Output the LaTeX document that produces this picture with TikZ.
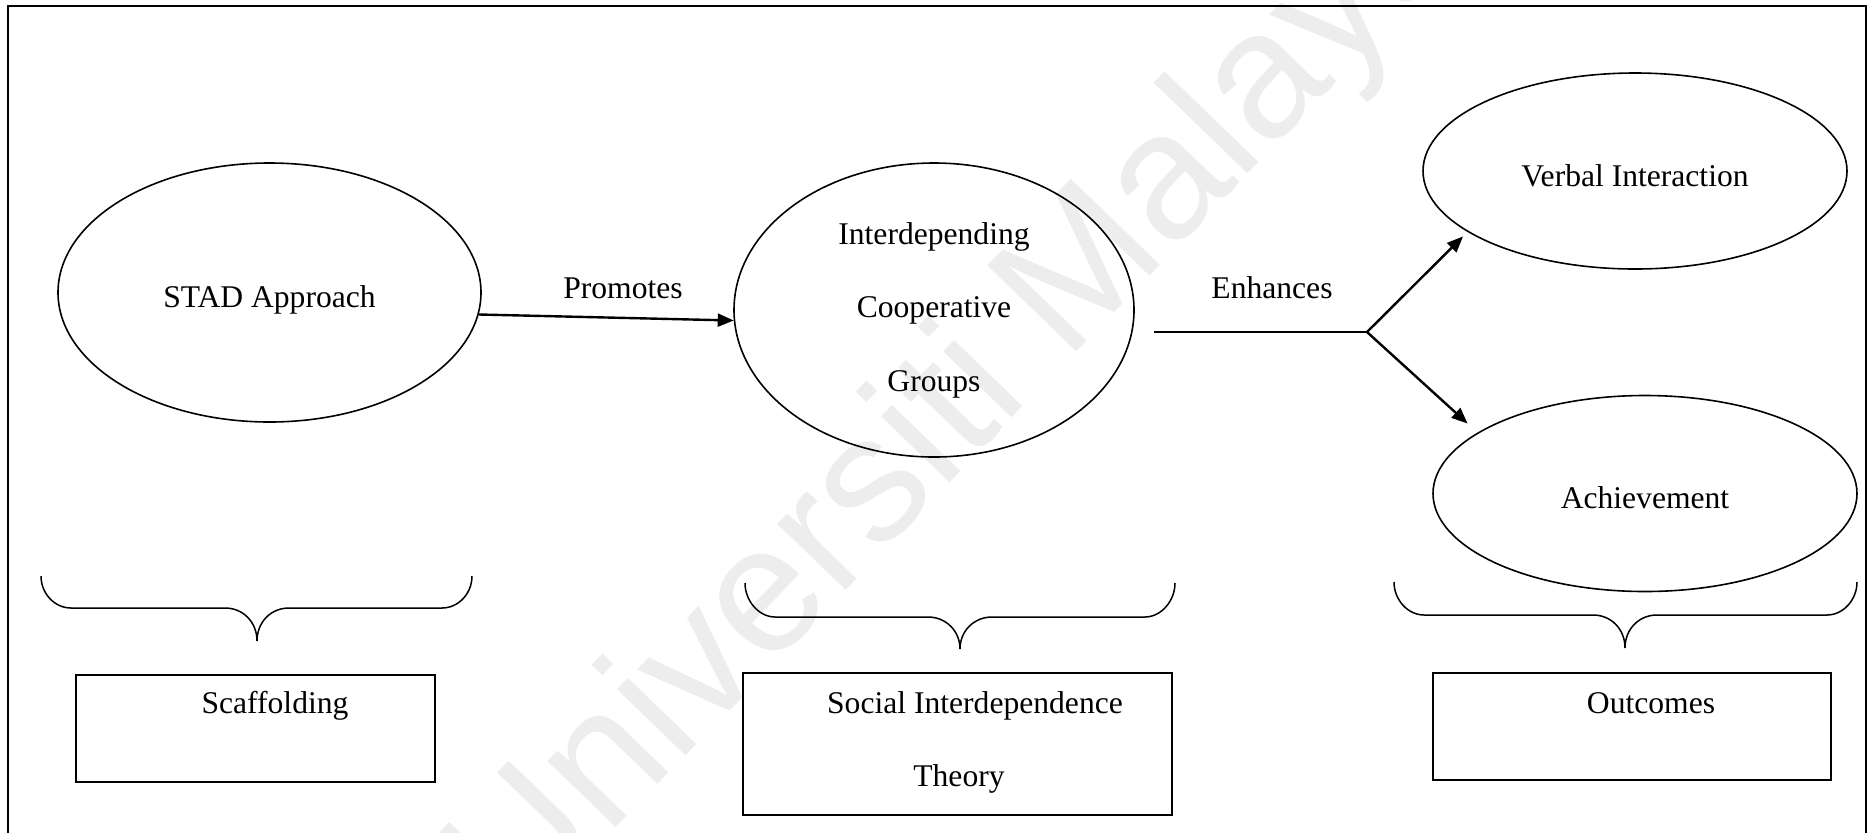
\documentclass[tikz,border=0pt]{standalone}
\usepackage{fontspec}
\setmainfont{Liberation Serif}
\newfontfamily\wmfont{Liberation Sans}
\usetikzlibrary{arrows.meta,shapes.geometric}

% curly brace opening downwards: left x, right x, top y, middle y, tip y, tip x
\newcommand{\drawbrace}[6]{%
  \draw[brace] (#1,#3) .. controls (#1,{#3+18}) and ({#1+14},#4) .. ({#1+30},#4)
    -- ({#6-32},#4) .. controls ({#6-14},#4) and (#6,{#4+14}) .. (#6,#5)
    .. controls (#6,{#4+14}) and ({#6+14},#4) .. ({#6+32},#4)
    -- ({#2-30},#4) .. controls ({#2-14},#4) and (#2,{#3+18}) .. (#2,#3);}

\begin{document}
\begin{tikzpicture}[x=0.5pt,y=-0.5pt,
  every node/.style={font=\fontsize{15.8}{36.75}\selectfont},
  oval/.style={draw, ellipse, line width=0.8pt, inner sep=0pt},
  ovaltext/.style={text height=18.5pt, text depth=3.5pt},
  box/.style={draw, rectangle, line width=1pt, inner sep=0pt},
  lbl/.style={anchor=base, inner sep=0pt},
  link/.style={line width=1.2pt},
  arr/.style={link, -{Triangle[length=8pt,width=6.5pt]}},
  brace/.style={line width=0.75pt},
]
\useasboundingbox (0,0) rectangle (1870,832);

% faint watermark behind the diagram
\node[rotate=46, text=black!7, inner sep=0pt,
      font=\wmfont\fontsize{90}{90}\selectfont] (wm) at (960,405) {Universiti Malaya};

% outer frame (runs off the lower edge)
\draw[line width=1pt] (8,840) -- (8,6) -- (1866,6) -- (1866,840);

% concept ellipses
\node[oval, ovaltext, minimum width=211.5pt, minimum height=129.5pt] (stad) at (269.5,292.5) {STAD Approach};
\node[oval, align=center, minimum width=200pt, minimum height=147pt] (coop) at (934,310)
  {Interdepending\\Cooperative\\Groups};
\node[oval, ovaltext, minimum width=212pt, minimum height=98pt] (verbal) at (1635,171) {Verbal Interaction};
\node[oval, ovaltext, minimum width=212pt, minimum height=98pt] (achv) at (1645,493.5) {Achievement};

% relation labels
\node[lbl] (promotes) at (623,298) {Promotes};
\node[lbl] (enhances) at (1272,298) {Enhances};

% connectors
\draw[arr] (stad.-6.6) -- (coop.183.4);
\coordinate (enhstart) at (1154,332);
\coordinate (fork) at (1367,332);
\draw[link] (enhstart) -- (fork);
\draw[arr, shorten >=3.2pt] (fork) -- (verbal.200.5);
\draw[arr, shorten >=6.7pt] (fork) -- (achv.160.6);

% grouping braces
\drawbrace{41}{472}{576}{608}{641}{257}
\drawbrace{745}{1175}{583}{617}{649}{960}
\drawbrace{1394}{1857}{582}{615}{648}{1625}

% theory boxes
\node[box, minimum width=179.5pt, minimum height=53.5pt] (scafbox) at (255.5,728.5) {};
\node[box, minimum width=214.5pt, minimum height=71pt] (sitbox) at (957.5,744) {};
\node[box, minimum width=199pt, minimum height=53.5pt] (outbox) at (1632,726.5) {};

\node[lbl] (scaftext) at (275,713) {Scaffolding};
\node[lbl] (sittext) at (975,713) {Social Interdependence};
\node[lbl] (sittext2) at (959,786) {Theory};
\node[lbl] (outtext) at (1651,713) {Outcomes};
\end{tikzpicture}
\end{document}
